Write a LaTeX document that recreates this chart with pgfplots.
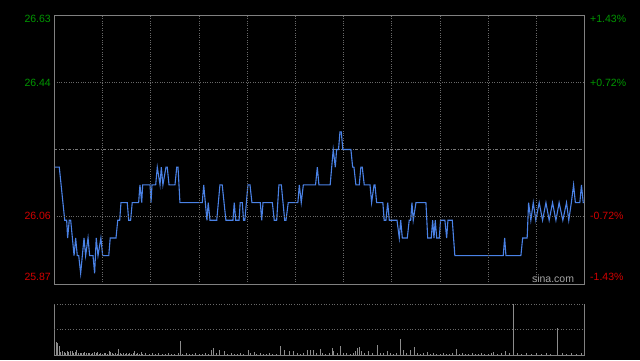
\documentclass[border=0pt]{standalone}
\usepackage{pgfplots}
\pgfplotsset{compat=1.18}
\usepackage{pgfplotstable}
\usepgfplotslibrary{fillbetween}
\usepackage{fontspec}
\setmainfont{Liberation Sans}
\definecolor{framec}{RGB}{128,128,128}
\definecolor{gridc}{RGB}{105,105,105}
\definecolor{lineblue}{RGB}{74,130,230}
\definecolor{fillc}{RGB}{20,30,54}
\definecolor{upg}{RGB}{0,150,0}
\definecolor{dnr}{RGB}{210,0,0}
\definecolor{volc}{RGB}{140,140,140}
\definecolor{sinac}{RGB}{165,165,165}

\pgfplotstableread{
t p
0 26.20
3.1 26.20
6.5 26.05
7.7 26.05
8.3 26.00
9.3 26.05
10.2 26.05
12.3 25.95
13.3 26.00
14.3 25.95
15.2 25.95
16.4 25.90
18.5 26.00
19.5 25.95
21 26.00
22 25.95
24.1 25.95
25.1 25.90
26.1 26.00
27.2 25.95
29 26.00
30.1 25.95
33.9 25.95
34.8 26.00
38.4 26.00
39.5 26.05
40.7 26.05
41.5 26.10
45.4 26.10
46.3 26.05
47.5 26.05
48.5 26.10
52.5 26.10
53.3 26.15
54.4 26.10
55 26.15
59.6 26.15
60.2 26.10
60.8 26.15
63.1 26.15
64.1 26.20
65.8 26.15
66.6 26.20
67.6 26.15
69.5 26.20
70.3 26.20
71.4 26.15
75.1 26.15
76.2 26.20
77 26.20
78.2 26.10
92.1 26.10
93 26.15
95 26.05
95.8 26.10
96.9 26.05
101.1 26.05
103.1 26.15
104.5 26.15
106.8 26.05
111.2 26.05
112 26.10
112.9 26.05
115 26.05
115.7 26.10
117 26.10
117.8 26.05
118.6 26.05
120.5 26.15
121.8 26.15
123 26.10
128.2 26.10
129.1 26.05
129.9 26.10
135.7 26.10
136.9 26.05
138.4 26.05
139.8 26.15
141.3 26.15
143.4 26.05
144.2 26.05
145.6 26.10
151.6 26.10
152.5 26.15
153.7 26.10
155 26.15
162.6 26.15
163.7 26.20
164.7 26.15
171.7 26.15
173.6 26.25
174.9 26.20
175.7 26.25
176.9 26.25
177.8 26.30
178.6 26.30
179.6 26.25
184.6 26.25
185.7 26.20
186.5 26.20
187.7 26.15
189.8 26.15
190.8 26.20
191.7 26.20
192.9 26.15
196.5 26.15
197.5 26.10
199 26.15
199.6 26.15
200.6 26.10
204.5 26.10
205.3 26.05
206.4 26.05
207.5 26.10
208.5 26.05
213.3 26.05
214.7 26.00
215.6 26.05
216.6 26.00
219.7 26.00
220.9 26.05
221.8 26.05
222.6 26.10
223.4 26.05
225.1 26.10
231.3 26.10
232.4 26.00
234.6 26.00
235.5 26.05
236.3 26.00
237.1 26.05
238 26.00
239.6 26.00
240.4 26.05
243.1 26.05
244.2 26.00
245 26.05
247.7 26.05
249.3 25.95
279.4 25.95
280.3 26.00
281.1 25.95
290.4 25.95
291.5 26.00
294.3 26.00
295.2 26.10
296.6 26.05
298.1 26.10
299.7 26.05
301.8 26.10
303.9 26.05
306 26.10
308 26.05
310.1 26.10
312.2 26.05
314.2 26.10
316.5 26.05
318.8 26.10
320.2 26.05
321.8 26.10
323.2 26.15
324.3 26.10
327.1 26.10
328.1 26.15
329.2 26.10
330 26.10
}\price

\pgfplotstableread{
t v
0 4
1 25
2 23
3 18
4 6
5 7
6 5
7 4
8 8
9 5
10 7
11 7
12 4
13 5
14 9
15 4
16 3
17 3
18 4
19 5
20 3
21 4
22 3
23 2
24 3
25 5
26 3
27 5
28 2
29 3
30 2
31 3
32 4
33 2
34 7
35 5
36 3
37 2
38 3
39 2
40 12
41 3
42 2
43 3
44 2
45 4
46 2
47 3
48 2
49 3
50 7
51 2
52 3
53 2
54 5
55 2
57 3
59 2
61 3
63 2
65 3
67 2
69 2
71 3
73 2
75 2
77 3
78.5 28
80 2
82 3
84 2
86 2
88 3
90 2
92 2
94 3
96 2
97.5 9
99 14
101 3
103 10
106 7
108 2
110 3
112 2
114 2
116 3
118 2
120.5 10
122 3
124.5 5
126 2
128 3
130 2
132 2
134 3
136 2
138 2
140.7 18
143 10
146.5 8
149 7
151 3
153 2
155 3
157.4 10
159.2 9
161.3 10
163 3
165.6 12
167 3
169 2
171 3
172.9 13
174 8
176 3
177.8 18
180 4
182 3
184 2
186 3
187.2 8
188.7 13
189.7 15
191.2 8
193 3
195.6 8
198 3
201.2 20
203 3
205 4
207.5 8
209 3
211 2
213 3
215.1 32
217.2 10
219 3
221.5 10
224 15
226 3
228 2
230 3
232.4 5
234 2
236 3
238 2
240 2
242 3
244 2
246 2
248 3
250.2 12
252 2
254 3
256 2
258 2
260 3
262 2
264 2
266 3
268 2
270 2
272 3
273.6 5
276 2
278 3
280.6 8
283 3
285.5 100
288 3
291 2
294 3
297 2
300 3
303 2
306 3
309 2
313.2 53
316 3
319 2
322 3
325 2
328 3
}\vol

\begin{document}
\begin{tikzpicture}[x=1bp,y=1bp]
\fill[black] (0,0) rectangle (640,360);
\begin{axis}[
  at={(54.3bp,76bp)}, anchor=south west, scale only axis,
  width=530.2bp, height=269bp,
  xmin=0, xmax=330, ymin=25.87, ymax=26.63,
  axis on top,
  axis line style={framec, line width=0.9bp},
  xtick={30,60,...,300}, ytick={26.06,26.44},
  xticklabels={}, yticklabels={},
  major tick length=0pt,
  grid=major, grid style={gridc, dotted, line width=0.7bp},
]
\addplot[name path=price, draw=none, forget plot] table[x=t,y=p]{\price};
\addplot[name path=base, draw=none, forget plot] coordinates {(0,25.87) (330,25.87)};
\addplot[top color=fillc, bottom color=black!92!fillc, draw=none] fill between[of=price and base];
\addplot[gridc!90!white, line width=0.7bp, dash pattern=on 3bp off 1.5bp on 1bp off 1.5bp] coordinates {(0,26.25) (330,26.25)};
\addplot[lineblue, line width=1.1bp] table[x=t,y=p]{\price};
\end{axis}
\begin{axis}[
  at={(54.3bp,5bp)}, anchor=south west, scale only axis,
  width=530.2bp, height=51bp,
  xmin=0, xmax=330, ymin=0, ymax=100,
  axis line style={draw=none},
  xtick=\empty, ytick=\empty,
  clip=false,
]
\addplot[ycomb, volc, line width=0.8bp, mark=none] table[x=t,y=v]{\vol};
\addplot[framec, line width=0.9bp] coordinates {(0,100) (0,0) (330,0) (330,100)};
\addplot[gridc, dotted, line width=0.7bp] coordinates {(0,100) (330,100)};
\addplot[gridc, dotted, line width=0.7bp] coordinates {(0,50) (330,50)};
\end{axis}
\begin{scope}[font=\fontsize{10.5bp}{12bp}\selectfont]
\node[anchor=east, text=upg, inner sep=0pt] at (51,341) {26.63};
\node[anchor=east, text=upg, inner sep=0pt] at (51,277.5) {26.44};
\node[anchor=east, text=dnr, inner sep=0pt] at (51,144) {26.06};
\node[anchor=east, text=dnr, inner sep=0pt] at (51,83) {25.87};
\node[anchor=west, text=upg, inner sep=0pt] at (590,341) {+1.43\%};
\node[anchor=west, text=upg, inner sep=0pt] at (590,277.5) {+0.72\%};
\node[anchor=west, text=dnr, inner sep=0pt] at (590,144) {-0.72\%};
\node[anchor=west, text=dnr, inner sep=0pt] at (590,83) {-1.43\%};
\node[text=sinac, inner sep=0pt] at (553,81) {sina.com};
\end{scope}
\end{tikzpicture}
\end{document}
